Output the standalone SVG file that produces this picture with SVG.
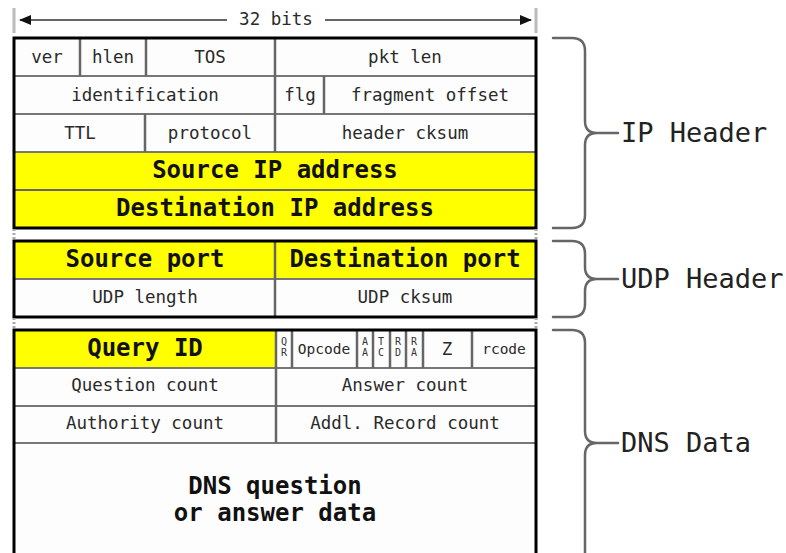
<svg xmlns="http://www.w3.org/2000/svg" width="786" height="553" viewBox="0 0 786 553">
<defs>
<marker id="ah" markerWidth="12" markerHeight="10" refX="11" refY="5" orient="auto" markerUnits="userSpaceOnUse">
<path d="M0,0 L12,5 L0,10 Z" fill="#111"/>
</marker>
<style>
.box{fill:none;stroke:#000;stroke-width:3}
.div{stroke:#666;stroke-width:2.5;fill:none}
.hdiv{stroke:#777;stroke-width:2;fill:none}
.cell{fill:#fdfdfd}
.yel{fill:#ffff00}
.t{font-family:"DejaVu Sans Mono","Liberation Mono",monospace;font-size:17.5px;fill:#2a2a2a;text-anchor:middle}
.s{font-family:"DejaVu Sans Mono","Liberation Mono",monospace;font-size:14.5px;fill:#2a2a2a;text-anchor:middle}
.m{font-family:"DejaVu Sans Mono","Liberation Mono",monospace;font-size:10px;fill:#333;text-anchor:middle}
.b{font-family:"DejaVu Sans Mono","Liberation Mono",monospace;font-size:24px;font-weight:bold;fill:#111;text-anchor:middle}
.lab{font-family:"DejaVu Sans Mono","Liberation Mono",monospace;font-size:27px;fill:#222}
.brace{fill:none;stroke:#666;stroke-width:2.5;stroke-linecap:round}
.tick{stroke:#bbb;stroke-width:3}
.gap{stroke:#aaa;stroke-width:3;stroke-dasharray:2 2}
</style>
</defs>
<rect width="786" height="553" fill="#fff"/>

<g id="width-indicator">
<line class="tick" x1="14" y1="8" x2="14" y2="33"/>
<line class="tick" x1="536" y1="8" x2="536" y2="33"/>
<line x1="227" y1="20" x2="20" y2="20" stroke="#333" stroke-width="1.5" marker-end="url(#ah)"/>
<line x1="325" y1="20" x2="531" y2="20" stroke="#333" stroke-width="1.5" marker-end="url(#ah)"/>
<text class="t" x="276" y="25">32 bits</text>
</g>

<g id="ip-header">
<rect class="cell" x="14" y="38" width="522" height="114"/>
<rect class="yel" x="14" y="152" width="522" height="76"/>
<line class="hdiv" x1="14" y1="76" x2="536" y2="76"/>
<line class="hdiv" x1="14" y1="114" x2="536" y2="114"/>
<line class="hdiv" x1="14" y1="152" x2="536" y2="152"/>
<line x1="14" y1="190" x2="536" y2="190" stroke="#666" stroke-width="2"/>
<line class="div" x1="80" y1="38" x2="80" y2="76"/>
<line class="div" x1="146" y1="38" x2="146" y2="76"/>
<line class="div" x1="275" y1="38" x2="275" y2="152"/>
<line class="div" x1="324" y1="76" x2="324" y2="114"/>
<line class="div" x1="145" y1="114" x2="145" y2="152"/>
<rect class="box" x="14" y="38" width="522" height="190"/>
<text class="t" x="47" y="63">ver</text>
<text class="t" x="113" y="63">hlen</text>
<text class="t" x="210" y="63">TOS</text>
<text class="t" x="405" y="63">pkt len</text>
<text class="t" x="145" y="101">identification</text>
<text class="t" x="300" y="101">flg</text>
<text class="t" x="430" y="101">fragment offset</text>
<text class="t" x="80" y="139">TTL</text>
<text class="t" x="210" y="139">protocol</text>
<text class="t" x="405" y="139">header cksum</text>
<text class="b" x="275" y="178">Source IP address</text>
<text class="b" x="275" y="216">Destination IP address</text>
</g>

<g id="udp-header">
<rect class="yel" x="14" y="241" width="522" height="38"/>
<rect class="cell" x="14" y="279" width="522" height="38"/>
<line class="hdiv" x1="14" y1="279" x2="536" y2="279"/>
<line class="div" x1="275" y1="241" x2="275" y2="317"/>
<rect class="box" x="14" y="241" width="522" height="76"/>
<text class="b" x="145" y="267">Source port</text>
<text class="b" x="405" y="267">Destination port</text>
<text class="t" x="145" y="303">UDP length</text>
<text class="t" x="405" y="303">UDP cksum</text>
</g>

<g id="dns-data">
<rect class="cell" x="14" y="330" width="522" height="230"/>
<rect class="yel" x="14" y="330" width="262" height="38"/>
<line class="hdiv" x1="14" y1="368" x2="536" y2="368"/>
<line class="hdiv" x1="14" y1="406" x2="536" y2="406"/>
<line class="hdiv" x1="14" y1="443" x2="536" y2="443"/>
<line class="div" x1="276" y1="330" x2="276" y2="443"/>
<line class="div" x1="292" y1="330" x2="292" y2="368"/>
<line class="div" x1="357" y1="330" x2="357" y2="368"/>
<line class="div" x1="373" y1="330" x2="373" y2="368"/>
<line class="div" x1="390" y1="330" x2="390" y2="368"/>
<line class="div" x1="406" y1="330" x2="406" y2="368"/>
<line class="div" x1="423" y1="330" x2="423" y2="368"/>
<line class="div" x1="472" y1="330" x2="472" y2="368"/>
<rect class="box" x="14" y="330" width="522" height="240"/>
<text class="b" x="145" y="356">Query ID</text>
<text class="m" x="284" y="345">Q</text><text class="m" x="284" y="356">R</text>
<text class="s" x="324" y="354">Opcode</text>
<text class="m" x="365" y="345">A</text><text class="m" x="365" y="356">A</text>
<text class="m" x="381" y="345">T</text><text class="m" x="381" y="356">C</text>
<text class="m" x="398" y="345">R</text><text class="m" x="398" y="356">D</text>
<text class="m" x="414" y="345">R</text><text class="m" x="414" y="356">A</text>
<text class="t" x="447" y="355">Z</text>
<text class="s" x="504" y="354">rcode</text>
<text class="t" x="145" y="391">Question count</text>
<text class="t" x="405" y="391">Answer count</text>
<text class="t" x="145" y="429">Authority count</text>
<text class="t" x="405" y="429">Addl. Record count</text>
<text class="b" x="275" y="494">DNS question</text>
<text class="b" x="275" y="521">or answer data</text>
</g>

<g id="gaps">
<line class="gap" x1="14" y1="229" x2="14" y2="240"/>
<line class="gap" x1="536" y1="229" x2="536" y2="240"/>
<line class="gap" x1="14" y1="318" x2="14" y2="329"/>
<line class="gap" x1="536" y1="318" x2="536" y2="329"/>
</g>

<g id="connectors">
<path class="brace" d="M553,38 H572 Q585,38 585,51 V121 Q585,133 597,133 M553,228 H572 Q585,228 585,215 V145 Q585,133 597,133 H618"/>
<path class="brace" d="M553,241 H572 Q585,241 585,254 V267 Q585,279 597,279 M553,317 H572 Q585,317 585,304 V291 Q585,279 597,279 H618"/>
<path class="brace" d="M553,330 H572 Q585,330 585,343 V431 Q585,443 597,443 M553,570 H572 Q585,570 585,557 V455 Q585,443 597,443 H618"/>
</g>

<g id="label-ip"><text class="lab" x="621" y="142">IP Header</text></g>
<g id="label-udp"><text class="lab" x="621" y="288">UDP Header</text></g>
<g id="label-dns"><text class="lab" x="621" y="452">DNS Data</text></g>
</svg>
